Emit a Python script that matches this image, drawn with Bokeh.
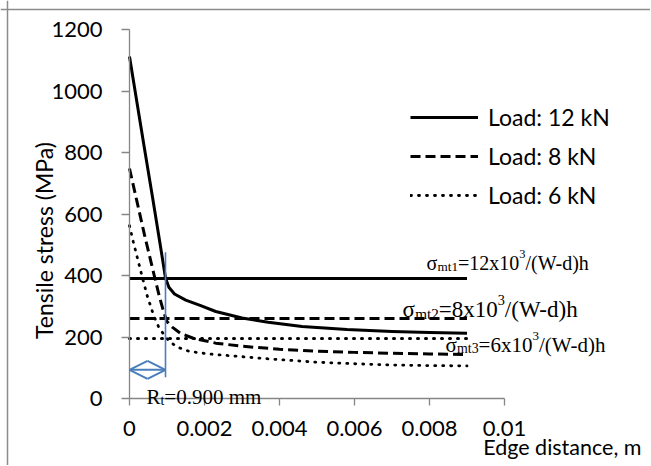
import numpy as np
from bokeh.plotting import figure
from bokeh.models import (Range1d, FixedTicker, Label, Legend, LegendItem, Arrow, Span,
                          OpenHead, CustomJSTickFormatter, LinearAxis)
from bokeh.embed import file_html
from bokeh.resources import INLINE

# ---------------- data ----------------
x12 = [0, 0.0002, 0.0004, 0.0006, 0.0008, 0.00096, 0.00105, 0.0012, 0.0015, 0.0019,
       0.0023, 0.003, 0.0037, 0.0046, 0.0058, 0.007, 0.008, 0.009]
y12 = [1112, 962, 812, 665, 515, 392, 362, 340, 320, 302,
       283, 262, 248, 234, 224, 218, 215, 212]

x8 = [0, 0.0002, 0.0004, 0.0006, 0.0008, 0.00092, 0.001, 0.00114, 0.00136, 0.0017,
      0.0023, 0.003, 0.004, 0.005, 0.006, 0.007, 0.008, 0.009]
y8 = [748, 640, 532, 430, 330, 278, 250, 232, 212, 196,
      180, 170, 160, 154, 150, 147, 145, 143]

x6 = [0, 0.0001, 0.0002, 0.00034, 0.00047, 0.00065, 0.00078, 0.00096, 0.0011, 0.0013,
      0.0016, 0.0021, 0.0027, 0.0037, 0.005, 0.006, 0.007, 0.008, 0.009]
y6 = [562, 510, 462, 395, 335, 268, 232, 200, 182, 166,
      153, 145, 139, 129, 118, 113, 109, 107, 106]

sigma_x = [0, 0.009]          # extent of the nominal-stress lines
sigma_mt = [390, 260, 195]    # sigma_mt1, sigma_mt2, sigma_mt3 (MPa)

load_labels = ["Load: 12 kN", "Load: 8 kN", "Load: 6 kN"]
x_ticks = [0, 0.002, 0.004, 0.006, 0.008, 0.01]
y_ticks = [0, 200, 400, 600, 800, 1000, 1200]

R_T = 0.00096        # position of the blue marker line (Rt = 0.900 mm)

# ---------------- layout: frame covers the whole canvas ----------------
W, H = 650, 465
X0_PX, X_SCALE = 129, 37500.0      # pixel of x=0, px per metre
Y0_PX, Y_SCALE = 398, 0.3075       # pixel of y=0, px per MPa


def dx(px):
    return (px - X0_PX) / X_SCALE


def dy(py):
    return (Y0_PX - py) / Y_SCALE


p = figure(width=W, height=H, x_range=Range1d(dx(0), dx(W)), y_range=Range1d(dy(H), dy(0)),
           output_backend="svg", toolbar_location=None,
           x_axis_location=None, y_axis_location=None,
           min_border_left=0, min_border_top=0, min_border_right=0, min_border_bottom=0)
p.xgrid.visible = False
p.ygrid.visible = False
p.outline_line_color = None
p.background_fill_color = "white"
p.border_fill_color = "white"

AX = "#868686"
xaxis = LinearAxis(fixed_location=0, ticker=FixedTicker(ticks=x_ticks), bounds=(0, 0.01),
                   formatter=CustomJSTickFormatter(code="return String(Number(tick.toFixed(6)));"))
yaxis = LinearAxis(fixed_location=0, ticker=FixedTicker(ticks=y_ticks), bounds=(0, 1200))
for ax in (xaxis, yaxis):
    ax.axis_line_color = AX
    ax.axis_line_width = 1.3
    ax.major_tick_line_color = AX
    ax.major_tick_line_width = 1.3
    ax.major_tick_in = 0
    ax.minor_tick_in = 0
    ax.minor_tick_out = 0
    ax.major_label_text_font = "Lato"
    ax.major_label_text_font_size = "22px"
    ax.major_label_text_color = "black"
xaxis.major_tick_out = 7
xaxis.major_label_standoff = 15
yaxis.major_tick_out = 8
yaxis.major_label_standoff = 19
p.add_layout(xaxis, "below")
p.add_layout(yaxis, "left")

# outer chart border (left and top)
GRAY = "#8c8c8c"
p.add_layout(Span(location=dx(7), dimension="height", line_color=GRAY, line_width=1.5))
p.add_layout(Span(location=dy(9), dimension="width", line_color=GRAY, line_width=1.5))

# nominal stress lines
styles = [dict(line_dash="solid"), dict(line_dash="10 5"), dict(line_dash="1 7", line_cap="round")]
for s, st in zip(sigma_mt, styles):
    p.line(sigma_x, [s, s], line_color="black", line_width=3, **st)

# curves
r12 = p.line(x12, y12, line_color="black", line_width=3, line_join="round")
r8 = p.line(x8, y8, line_color="black", line_width=3, line_dash="10 5")
r6 = p.line(x6, y6, line_color="black", line_width=2.8, line_dash="1 7", line_cap="round")

legend = Legend(items=[LegendItem(label=load_labels[0], renderers=[r12]),
                       LegendItem(label=load_labels[1], renderers=[r8]),
                       LegendItem(label=load_labels[2], renderers=[r6])],
                location=(410, 256), glyph_width=68, glyph_height=28, label_height=28,
                spacing=11, padding=0, margin=0, label_standoff=10,
                border_line_color=None, background_fill_alpha=0,
                label_text_font="Lato", label_text_font_size="23px", label_text_color="black")
p.add_layout(legend)

# blue Rt marker
BLUE = "#4a7ebb"
p.add_layout(Arrow(end=None, x_start=R_T, y_start=dy(376.7), x_end=R_T, y_end=dy(251.7),
                   line_color=BLUE, line_width=1.6))
p.add_layout(Arrow(start=OpenHead(size=18, line_color=BLUE, line_width=2),
                   end=OpenHead(size=18, line_color=BLUE, line_width=2),
                   x_start=0, y_start=dy(369.3), x_end=R_T, y_end=dy(369.3),
                   line_color=BLUE, line_width=2))

# rich text helper (Times metrics)
TW = {'σ': 0.549, 'm': 0.778, 't': 0.278, '=': 0.564, 'x': 0.5, '/': 0.278, '(': 0.333,
      ')': 0.333, 'W': 0.944, '-': 0.333, 'd': 0.5, 'h': 0.5, 'R': 0.667, '.': 0.25, ' ': 0.25}


def rich(px, py, parts, fs, font="Liberation Serif"):
    off = 0.0
    for txt, kind in parts:
        if kind == "n":
            size, yo = fs, 0
        elif kind == "sub":
            size, yo = fs * 0.66, -fs * 0.18
        else:
            size, yo = fs * 0.62, fs * 0.42
        p.add_layout(Label(x=dx(px), y=dy(py), x_offset=off, y_offset=yo, text=txt,
                           text_font=font, text_font_size=f"{size:.1f}px",
                           text_baseline="alphabetic", text_align="left", text_color="black"))
        off += sum(TW.get(c, 0.5) for c in txt) * size


rich(426, 262, [("σ", "n"), ("mt1", "sub"), ("=12x10", "n"), ("3", "sup"), ("/(W-d)h", "n")], 20)
rich(402, 309, [("σ", "n"), ("mt2", "sub"), ("=8x10", "n"), ("3", "sup"), ("/(W-d)h", "n")], 23)
rich(445, 344, [("σ", "n"), ("mt3", "sub"), ("=6x10", "n"), ("3", "sup"), ("/(W-d)h", "n")], 21)
rich(146, 396, [("R", "n"), ("t", "sub"), ("=0.900 mm", "n")], 21)

# axis titles
p.add_layout(Label(x=dx(43), y=dy(240), text="Tensile stress (MPa)", angle=np.pi / 2,
                   text_font="Lato", text_font_size="23px", text_align="center",
                   text_baseline="middle", text_color="black"))
p.add_layout(Label(x=dx(641), y=dy(446), text="Edge distance, m", text_font="Lato",
                   text_font_size="21.5px", text_align="right", text_baseline="middle",
                   text_color="black"))

open("out.html", "w").write(file_html(p, INLINE))
